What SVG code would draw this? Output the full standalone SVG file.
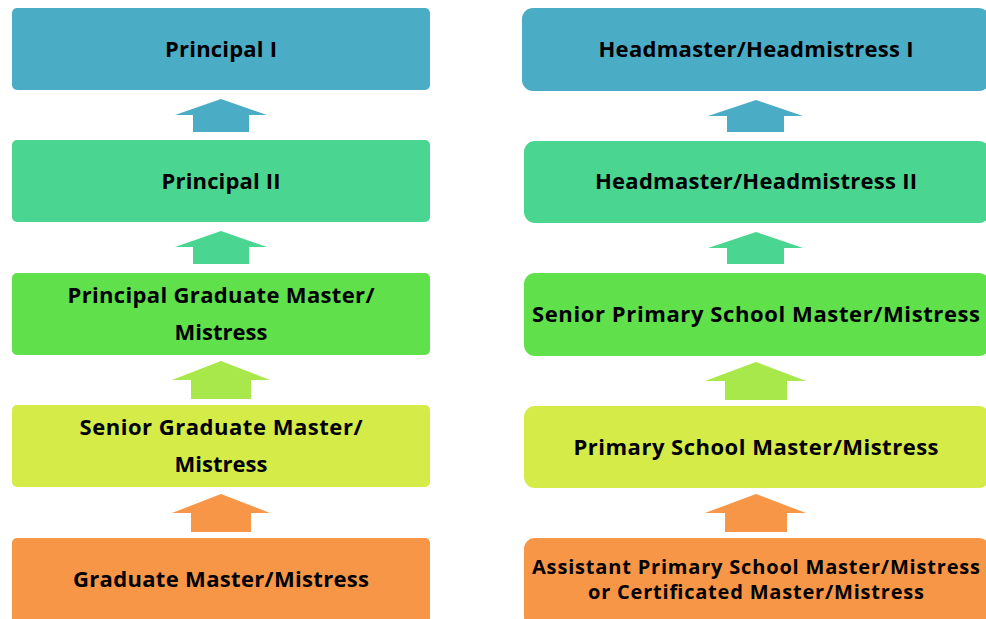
<svg xmlns="http://www.w3.org/2000/svg" width="986" height="619" viewBox="0 0 986 619">
<style>
.t{font-family:"Open Sans","Noto Sans","DejaVu Sans",sans-serif;font-weight:700;font-size:22px;fill:#000;text-anchor:middle}
.s{font-size:20px}
.c1{fill:#4BACC6}.c2{fill:#4AD691}.c3{fill:#60E04A}.c3a{fill:#A8E84A}.c4{fill:#D4EB48}.c5{fill:#F79646}
</style>
<rect width="986" height="619" fill="#fff"/>
<g id="left-1"><rect class="c1" x="12" y="8" width="418" height="82" rx="5"/><text class="t" x="221" y="57" textLength="112">Principal I</text></g>
<g id="left-2"><rect class="c2" x="12" y="140" width="418" height="82" rx="5"/><text class="t" x="221" y="189" textLength="119">Principal II</text></g>
<g id="left-3"><rect class="c3" x="12" y="273" width="418" height="82" rx="5"/><text class="t" x="221" y="303" textLength="307">Principal Graduate Master/</text><text class="t" x="221" y="340" textLength="93">Mistress</text></g>
<g id="left-4"><rect class="c4" x="12" y="405" width="418" height="82" rx="5"/><text class="t" x="221" y="435" textLength="283">Senior Graduate Master/</text><text class="t" x="221" y="472" textLength="93">Mistress</text></g>
<g id="left-5"><rect class="c5" x="12" y="538" width="418" height="90" rx="5"/><text class="t" x="221" y="587" textLength="296">Graduate Master/Mistress</text></g>
<g id="right-1"><rect class="c1" x="522" y="8" width="468" height="83" rx="11"/><text class="t" x="756" y="57" textLength="315">Headmaster/Headmistress I</text></g>
<g id="right-2"><rect class="c2" x="524" y="141" width="466" height="82" rx="11"/><text class="t" x="756" y="189" textLength="322">Headmaster/Headmistress II</text></g>
<g id="right-3"><rect class="c3" x="524" y="273" width="466" height="83" rx="11"/><text class="t" x="756" y="322" textLength="448">Senior Primary School Master/Mistress</text></g>
<g id="right-4"><rect class="c4" x="524" y="406" width="466" height="82" rx="11"/><text class="t" x="756" y="455" textLength="365">Primary School Master/Mistress</text></g>
<g id="right-5"><rect class="c5" x="524" y="538" width="466" height="90" rx="11"/><text class="t s" x="756" y="574" textLength="448">Assistant Primary School Master/Mistress</text><text class="t s" x="756" y="599" textLength="336">or Certificated Master/Mistress</text></g>
<g id="connectors">
<polygon class="c1" points="221,99 267,115 249,115 249,132 193,132 193,115 175,115"/>
<polygon class="c2" points="221,231 267,247 249,247 249,264 193,264 193,247 175,247"/>
<polygon class="c3a" points="221,361 270,380 251,380 251,399 191,399 191,380 172,380"/>
<polygon class="c5" points="221,494 270,513 251,513 251,532 191,532 191,513 172,513"/>
<polygon class="c1" points="756,100 803,116 784,116 784,132 727,132 727,116 708,116"/>
<polygon class="c2" points="756,232 803,248 784,248 784,264 727,264 727,248 708,248"/>
<polygon class="c3a" points="756,362 806,381 787,381 787,400 725,400 725,381 705,381"/>
<polygon class="c5" points="756,494 806,513 787,513 787,532 725,532 725,513 705,513"/>
</g>
</svg>
